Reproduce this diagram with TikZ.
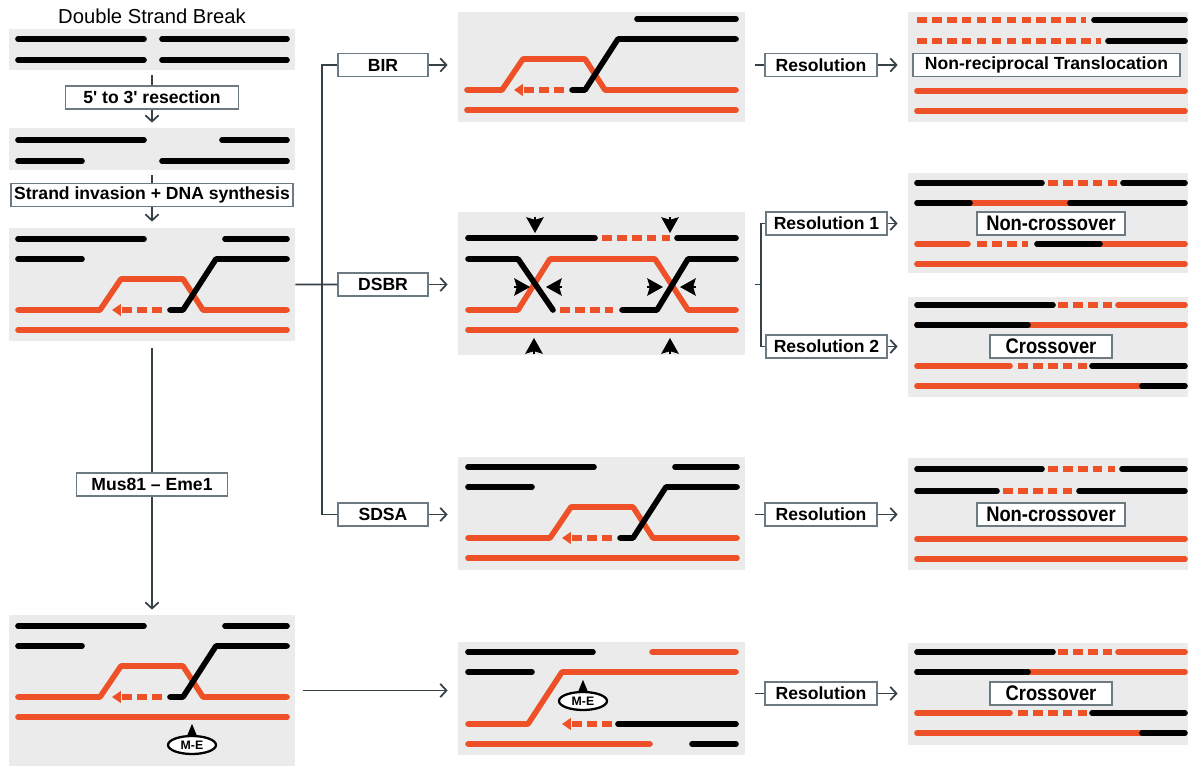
\documentclass[tikz,border=0pt]{standalone}
\usepackage{fontspec}
\setmainfont{Liberation Sans}
\newfontfamily\narrowsf[FakeStretch=0.87]{Liberation Sans}
\usetikzlibrary{arrows.meta,fit,shapes.geometric}

\definecolor{dnared}{RGB}{238,80,40}
\definecolor{panelgray}{RGB}{235,235,235}
\definecolor{boxgray}{RGB}{110,122,130}
\definecolor{linkgray}{RGB}{55,65,72}

% one pixel of the drawing grid
\newcommand{\pix}{0.02cm}

% D-loop: #1 start of the loop, #2 top row, #3 left end, #4 right end
\newcommand{\dloop}[4]{%
    \draw[rd] (#3,{#2+71}) -- (#1,{#2+71}) -- ({#1+21},{#2+40}) -- ({#1+83},{#2+40})
        -- ({#1+103},{#2+71}) -- (#4,{#2+71});
    \draw[rd] (#3,{#2+91}) -- (#4,{#2+91});
    \draw[syn, -{Triangle[length=5pt,width=6.5pt]}] ({#1+62},{#2+71}) -- ({#1+12},{#2+71});
    \draw[blk] ({#1+70},{#2+71}) -- ({#1+83},{#2+71}) -- ({#1+116},{#2+20}) -- (#4,{#2+20});
}

% resected ends plus D-loop: #1 left end, #2 top row
\newcommand{\invaded}[2]{%
    \draw[blk] (#1,#2) -- ({#1+126},#2) ({#1+207},#2) -- ({#1+269},#2)
        (#1,{#2+20}) -- ({#1+64},{#2+20});
    \dloop{#1+82}{#2}{#1}{#1+269}
}

% crossover products, #1 top row
\newcommand{\xover}[1]{%
    \draw[rd] (917,{#1+20}) -- (1185,{#1+20}) (917,{#1+61}) -- (1010,{#1+61})
        (917,{#1+81}) -- (1142,{#1+81}) (1118,#1) -- (1185,#1);
    \draw[syn] (1058,#1) -- (1112,#1) (1018,{#1+61}) -- (1087,{#1+61});
    \draw[blk] (917,#1) -- (1053,#1) (917,{#1+20}) -- (1028,{#1+20})
        (1092,{#1+61}) -- (1185,{#1+61}) (1142,{#1+81}) -- (1185,{#1+81});
}

\begin{document}
\begin{tikzpicture}[
        x=\pix, y=-\pix,
        panel/.style = {fill=panelgray, inner sep=0pt},
        box/.style = {draw=boxgray, fill=white, line width=0.7pt, inner sep=0pt,
            minimum height=23*\pix, minimum width=#1*\pix,
            font=\bfseries\fontsize{10}{12}\selectfont},
        result/.style = {box=#1, font=\narrowsf\bfseries\fontsize{12}{14}\selectfont},
        enz/.style = {ellipse, draw, line width=1.3pt, fill=white, inner sep=0pt,
            minimum width=48*\pix, minimum height=18*\pix,
            font=\bfseries\fontsize{7}{8}\selectfont},
        link/.style = {draw=linkgray, line width=1pt},
        strand/.style = {line width=3.2pt, line cap=round, line join=round},
        blk/.style = {strand, black},
        rd/.style = {strand, dnared},
        syn/.style = {strand, dnared, line cap=butt, dash pattern=on 5.5pt off 3pt},
        cut/.style = {-{Stealth[length=9pt,width=10pt,inset=1.5pt]}, line width=0.6pt},
        >={Straight Barb[length=3.5pt,width=7.5pt]}
        ]
    \useasboundingbox (0,0) rectangle (1188,766);

    % panels
    \node (pA) [panel, fit={(9,29) (295,70)}] {};
    \node (pB) [panel, fit={(9,128) (295,170)}] {};
    \node (pC) [panel, fit={(9,228) (295,341)}] {};
    \node (pD) [panel, fit={(9,615) (295,766)}] {};
    \node (pBIR) [panel, fit={(458,12) (745,122)}] {};
    \node (pDSBR) [panel, fit={(458,212) (745,355)}] {};
    \node (pSDSA) [panel, fit={(458,457) (745,570)}] {};
    \node (pME) [panel, fit={(458,642) (745,755)}] {};
    \node (pNR) [panel, fit={(908,12) (1188,122)}] {};
    \node (pNC1) [panel, fit={(908,173) (1188,273)}] {};
    \node (pC2) [panel, fit={(908,297) (1188,397)}] {};
    \node (pNC3) [panel, fit={(908,458) (1188,570)}] {};
    \node (pC4) [panel, fit={(908,643) (1188,745)}] {};

    \node (title) at (152,16) {\fontsize{11.5}{13}\selectfont Double Strand Break};

    % break and resection
    \draw[blk] (18,39) -- (144,39) (162,39) -- (287,39) (18,60) -- (144,60) (162,60) -- (287,60);
    \draw[blk] (18,140) -- (144,140) (222,140) -- (287,140) (18,161) -- (82,161) (162,161) -- (287,161);

    % strand invasion
    \invaded{18}{239}
    \invaded{18}{626}
    \node (me1) [enz] at (192,745) {M-E};
    \fill (me1.north) ++(-5,1) -- ++(5,-12) -- ++(5,12) -- cycle;

    % BIR
    \draw[blk] (637,19) -- (736,19);
    \dloop{502}{19}{467}{736}

    % DSBR, double Holliday junction
    \draw[rd] (468,310) -- (518,310) -- (550,259) -- (655,259) -- (688,310) -- (736,310);
    \draw[rd] (468,330) -- (736,330);
    \draw[syn] (602,238) -- (670,238) (560,310) -- (613,310);
    \draw[blk] (468,238) -- (595,238) (677,238) -- (736,238);
    \draw[blk] (468,259) -- (518,259) -- (553,310);
    \draw[blk] (736,259) -- (688,259) -- (657,310) -- (622,310);
    \draw[cut] (535,217) -- (535,233);
    \draw[cut] (670,217) -- (670,233);
    \draw[cut] (534,354) -- (534,338);
    \draw[cut] (670,354) -- (670,338);
    \draw[cut] (514,287) -- (530,287);
    \draw[cut] (562,287) -- (546,287);
    \draw[cut] (647,287) -- (663,287);
    \draw[cut] (696,287) -- (680,287);

    % SDSA
    \invaded{468}{467}

    % Mus81-Eme1 cut
    \draw[rd] (652,652) -- (736,652) (468,724) -- (528,724) -- (562,672) -- (736,672) (468,744) -- (650,744);
    \draw[syn, -{Triangle[length=5pt,width=6.5pt]}] (612,724) -- (562,724);
    \draw[blk] (468,652) -- (593,652) (468,672) -- (532,672) (618,724) -- (736,724) (692,744) -- (736,744);
    \node (me2) [enz] at (583,701) {M-E};
    \fill (me2.north) ++(-5,1) -- ++(5,-12) -- ++(5,12) -- cycle;

    % products
    \draw[syn] (917,20) -- (1086,20) (917,41) -- (1101,41);
    \draw[blk] (1094,20) -- (1185,20) (1108,41) -- (1185,41);
    \draw[rd] (917,91) -- (1185,91) (917,111) -- (1185,111);

    \draw[rd] (970,203) -- (1070,203) (917,244) -- (968,244) (1100,244) -- (1185,244) (917,264) -- (1185,264);
    \draw[syn] (1048,183) -- (1118,183) (977,244) -- (1028,244);
    \draw[blk] (917,183) -- (1042,183) (1123,183) -- (1185,183) (917,203) -- (970,203)
        (1070,203) -- (1185,203) (1037,244) -- (1100,244);

    \xover{305}

    \draw[rd] (917,539) -- (1185,539) (917,559) -- (1185,559);
    \draw[syn] (1048,469) -- (1115,469) (1003,491) -- (1072,491);
    \draw[blk] (917,469) -- (1042,469) (1122,469) -- (1185,469) (917,491) -- (997,491) (1079,491) -- (1185,491);

    \xover{652}

    % labels
    \node (res) [box=173] at (152,97.5) {5\textquotesingle{} to 3\textquotesingle{} resection};
    \node (inv) [box=282] at (152,195) {Strand invasion + DNA synthesis};
    \node (mus) [box=151] at (152,484.5) {Mus81 -- Eme1};
    \node (bir) [box=90] at (383,65) {BIR};
    \node (dsbr) [box=90] at (383,284.5) {DSBR};
    \node (sdsa) [box=90] at (383,514.5) {SDSA};
    \node (rB) [box=112] at (821,65) {Resolution};
    \node (r1) [box=121] at (826.5,223.5) {Resolution 1};
    \node (r2) [box=121] at (826.5,346.5) {Resolution 2};
    \node (rS) [box=112] at (821,514.5) {Resolution};
    \node (rM) [box=112] at (821,693.5) {Resolution};
    \node (tNR) [box=267] at (1046.5,65) {Non-reciprocal Translocation};
    \node (tNC1) [result=148] at (1051,223.5) {Non-crossover};
    \node (tC2) [result=122] at (1051,346.5) {Crossover};
    \node (tNC3) [result=148] at (1051,514.5) {Non-crossover};
    \node (tC4) [result=122] at (1051,693.5) {Crossover};

    % connectors
    \draw[link, shorten <=0.1cm] (pA) -- (res);
    \draw[link, ->, shorten >=0.1cm] (res) -- (pB);
    \draw[link, shorten <=0.1cm] (pB) -- (inv);
    \draw[link, ->, shorten >=0.12cm] (inv) -- (pC);
    \draw[link, shorten <=0.14cm] (pC) -- (mus);
    \draw[link, ->, shorten >=0.1cm] (mus) -- (pD);

    \coordinate (fork) at (322,284.5);
    \draw[link] (pC.east) -- (dsbr.west);
    \draw[link] (bir.west) -| (fork) |- (sdsa.west);
    \draw[link, ->, shorten >=0.2cm] (bir.east) -- (bir.east -| pBIR.west);
    \draw[link, ->, shorten >=0.2cm] (dsbr.east) -- (dsbr.east -| pDSBR.west);
    \draw[link, ->, shorten >=0.2cm] (sdsa.east) -- (sdsa.east -| pSDSA.west);
    \draw[link, ->, shorten <=0.16cm, shorten >=0.2cm] (pD.east) -- (pD.east -| pME.west);

    \draw[link, shorten >=0.2cm] (rB.west) -- (rB.west -| pBIR.east);
    \draw[link, ->, shorten >=0.2cm] (rB.east) -- (rB.east -| pNR.west);

    \coordinate (split) at (761,284.5);
    \draw[link] (r1.west) -| (split) |- (r2.west);
    \draw[link, shorten >=0.2cm] (split) -- (split -| pDSBR.east);
    \draw[link, ->, shorten >=0.2cm] (r1.east) -- (r1.east -| pNC1.west);
    \draw[link, ->, shorten >=0.2cm] (r2.east) -- (r2.east -| pC2.west);

    \draw[link, shorten >=0.2cm] (rS.west) -- (rS.west -| pSDSA.east);
    \draw[link, ->, shorten >=0.2cm] (rS.east) -- (rS.east -| pNC3.west);

    \draw[link, shorten >=0.2cm] (rM.west) -- (rM.west -| pME.east);
    \draw[link, ->, shorten >=0.2cm] (rM.east) -- (rM.east -| pC4.west);
\end{tikzpicture}
\end{document}
